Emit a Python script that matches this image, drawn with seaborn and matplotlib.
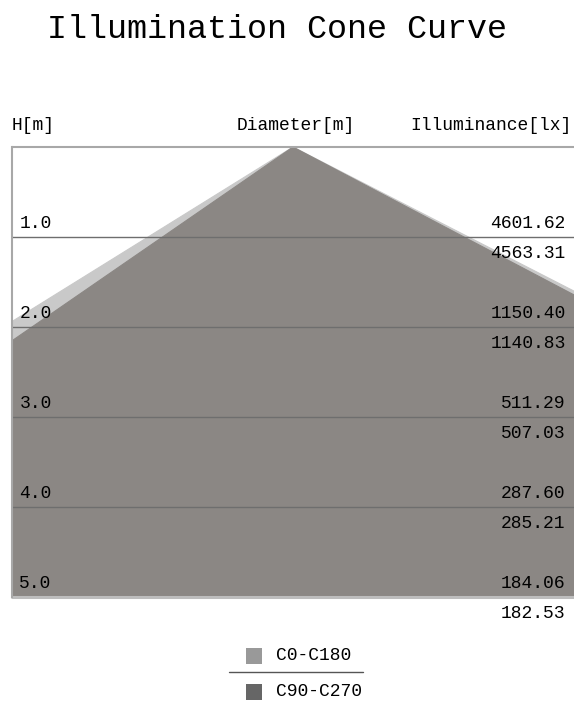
import numpy as np
import pandas as pd
import matplotlib
matplotlib.use("Agg")
import matplotlib.pyplot as plt
import seaborn as sns
from matplotlib.patches import Rectangle
from matplotlib.lines import Line2D

# heights of the planes (m) and illuminance at each plane (lx)
heights = [1.0, 2.0, 3.0, 4.0, 5.0]
lux_c0 = [4601.62, 1150.40, 511.29, 287.60, 184.06]
lux_c90 = [4563.31, 1140.83, 507.03, 285.21, 182.53]

# cone edges (left / right x in m) at the bottom plane H = 5 m, apex at 0
cone_h = [0.0, 5.0]
c0_edges = [-8.05, 9.75]
c90_edges = [-7.25, 9.50]

labels = ["C0-C180", "C90-C270"]
fill_colors = ["#c9c9c9", "#8b8784"]
legend_colors = ["#999999", "#666666"]

sns.set_theme(style="white")
plt.rcParams["font.family"] = ["Liberation Mono", "DejaVu Sans Mono"]

W, H = 574, 702
fig = plt.figure(figsize=(W / 100, H / 100), dpi=100)
ax = fig.add_axes([12 / W, (H - 597) / H, 562 / W, 450 / H])

# cones as filled polygons
for edges, col in zip([c0_edges, c90_edges], fill_colors):
    df = pd.DataFrame({"x": [edges[0], 0.0, edges[1]],
                       "h": [cone_h[1], cone_h[0], cone_h[1]]})
    ax.fill(df["x"], df["h"], color=col, lw=0, zorder=1)
    sns.lineplot(data=df, x="x", y="h", sort=False, color=col, lw=0.8, ax=ax, zorder=1)

xl = (293 - 12) / 90
ax.set_xlim(-xl, xl)
ax.set_ylim(5.0, 0.0)

# plane lines
for h in heights[:-1]:
    ax.axhline(h, color="#6e6e6e", lw=1.0, zorder=2)
ax.axhline(heights[-1], color="#bdbdbd", lw=2.2, zorder=2, clip_on=False)
ax.axhline(0.0, color="#a8a8a8", lw=1.5, zorder=2, clip_on=False)

fs = 13
for h, a, b in zip(heights, lux_c0, lux_c90):
    ax.text(-3.04, h - 0.15, f"{h:.1f}", ha="left", va="center", fontsize=fs, color="#000000", zorder=3)
    ax.text(3.03, h - 0.15, f"{a:.2f}", ha="right", va="center", fontsize=fs, color="#000000", zorder=3)
    ax.text(3.03, h + 0.185, f"{b:.2f}", ha="right", va="center", fontsize=fs, color="#000000",
            zorder=3, clip_on=False)

for s in ["top", "right", "bottom"]:
    ax.spines[s].set_visible(False)
ax.spines["left"].set_color("#a8a8a8")
ax.spines["left"].set_linewidth(1.5)
ax.set_xticks([])
ax.set_yticks([])
ax.set_xlabel("")
ax.set_ylabel("")
if ax.get_legend():
    ax.get_legend().remove()

# header texts
fig.text(277 / W, 1 - 29 / H, "Illumination Cone Curve", ha="center", va="center", fontsize=24, color="#000000")
fig.text(12 / W, 1 - 125 / H, "H[m]", ha="left", va="center", fontsize=fs, color="#000000")
fig.text(296 / W, 1 - 125 / H, "Diameter[m]", ha="center", va="center", fontsize=fs, color="#000000")
fig.text(572 / W, 1 - 125 / H, "Illuminance[lx]", ha="right", va="center", fontsize=fs, color="#000000")

# legend
for i, (lab, col) in enumerate(zip(labels, legend_colors)):
    yc = 656 + 36 * i
    fig.patches.append(Rectangle((246 / W, 1 - (yc + 8) / H), 16 / W, 16 / H,
                                 transform=fig.transFigure, color=col, lw=0))
    fig.text(276 / W, 1 - yc / H, lab, ha="left", va="center", fontsize=fs, color="#000000")
fig.lines.append(Line2D([229 / W, 363 / W], [1 - 672 / H, 1 - 672 / H],
                        transform=fig.transFigure, color="#555555", lw=1.0))

fig.savefig("out.png", dpi=100, facecolor="white")
